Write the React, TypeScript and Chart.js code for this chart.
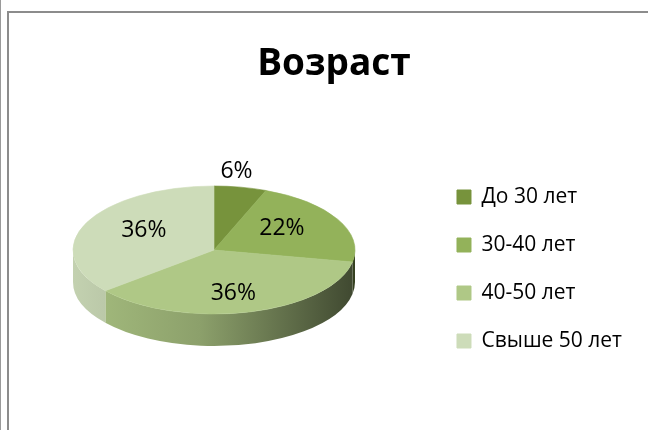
import React, { useEffect, useRef } from 'react';
import { Chart, registerables } from 'chart.js';

Chart.register(...registerables);

// ---- data ----
const chartTitle = 'Возраст';
const categories = ['До 30 лет', '30-40 лет', '40-50 лет', 'Свыше 50 лет'];
const values = [6, 22, 36, 36];
const sliceColors = ['#77933c', '#93b25a', '#afc886', '#cddcb9'];

// ---- style ----
const FONT = '"Open Sans", Lato, sans-serif';
const PIE_CX = 214;
const PIE_CY = 250;
const PIE_RX = 141;
const PIE_RY = 64;
const PIE_DEPTH = 32;

function shade(hex: string, f: number): string {
  const n = parseInt(hex.slice(1), 16);
  const r = Math.round(((n >> 16) & 255) * f);
  const g = Math.round(((n >> 8) & 255) * f);
  const b = Math.round((n & 255) * f);
  return `rgb(${r},${g},${b})`;
}

const framePlugin = {
  id: 'frame',
  beforeDraw(chart: any) {
    const ctx = chart.ctx;
    ctx.save();
    ctx.fillStyle = '#ffffff';
    ctx.fillRect(0, 0, chart.width, chart.height);
    ctx.strokeStyle = '#9a9a9a';
    ctx.lineWidth = 1;
    ctx.beginPath();
    ctx.moveTo(0.5, 0);
    ctx.lineTo(0.5, chart.height);
    ctx.stroke();
    ctx.strokeStyle = '#8c8c8c';
    ctx.lineWidth = 2;
    ctx.beginPath();
    ctx.moveTo(8, chart.height + 2);
    ctx.lineTo(8, 12);
    ctx.lineTo(chart.width + 2, 12);
    ctx.stroke();
    ctx.restore();
  },
};

const pie3dPlugin = {
  id: 'pie3d',
  beforeDatasetsDraw(chart: any) {
    const ctx = chart.ctx;
    const meta = chart.getDatasetMeta(0);
    const arcs = meta.data as any[];
    if (!arcs.length) return;
    ctx.save();
    arcs.forEach((arc, i) => {
      const { startAngle, endAngle } = arc.getProps(['startAngle', 'endAngle'], true);
      const a1 = Math.max(startAngle, 0);
      const a2 = Math.min(endAngle, Math.PI);
      if (a2 <= a1) return;
      const c = sliceColors[i];
      const g = ctx.createLinearGradient(PIE_CX - PIE_RX, 0, PIE_CX + PIE_RX, 0);
      g.addColorStop(0, shade(c, 0.95));
      g.addColorStop(0.45, shade(c, 0.8));
      g.addColorStop(1, shade(c, 0.36));
      ctx.beginPath();
      ctx.ellipse(PIE_CX, PIE_CY, PIE_RX, PIE_RY, 0, a1, a2);
      ctx.ellipse(PIE_CX, PIE_CY + PIE_DEPTH, PIE_RX, PIE_RY, 0, a2, a1, true);
      ctx.closePath();
      ctx.fillStyle = g;
      ctx.fill();
    });
    ctx.restore();
    const a0 = arcs[0];
    const { x, y, outerRadius } = a0.getProps(['x', 'y', 'outerRadius'], true);
    ctx.save();
    ctx.translate(PIE_CX, PIE_CY);
    ctx.scale(PIE_RX / outerRadius, PIE_RY / outerRadius);
    ctx.translate(-x, -y);
  },
  afterDatasetsDraw(chart: any) {
    const ctx = chart.ctx;
    ctx.restore();
    const meta = chart.getDatasetMeta(0);
    const arcs = meta.data as any[];
    const total = values.reduce((s, v) => s + v, 0);
    ctx.save();
    ctx.font = `23px ${FONT}`;
    ctx.fillStyle = '#000000';
    ctx.textAlign = 'center';
    ctx.textBaseline = 'middle';
    arcs.forEach((arc, i) => {
      const { startAngle, endAngle } = arc.getProps(['startAngle', 'endAngle'], true);
      const mid = (startAngle + endAngle) / 2;
      const pct = (values[i] / total) * 100;
      const outside = pct < 10;
      const fx = outside ? 0.85 : 0.55;
      const fy = outside ? 1.25 : 0.7;
      const lx = PIE_CX + Math.cos(mid) * PIE_RX * fx;
      const ly = PIE_CY + Math.sin(mid) * PIE_RY * fy;
      ctx.fillText(`${Math.round(pct)}%`, lx, ly);
    });
    ctx.restore();
  },
};

export default function App() {
  const ref = useRef<HTMLCanvasElement | null>(null);
  useEffect(() => {
    if (!ref.current) return;
    const chart = new Chart(ref.current, {
      type: 'pie',
      data: {
        labels: categories,
        datasets: [
          {
            data: values,
            backgroundColor: sliceColors,
            borderColor: sliceColors,
            borderWidth: 1,
          },
        ],
      },
      options: {
        responsive: false,
        animation: false,
        layout: { padding: { left: 36, right: 16, top: 0, bottom: 0 } },
        plugins: {
          title: {
            display: true,
            text: chartTitle,
            color: '#000000',
            font: { family: FONT, size: 37, weight: 'bold' },
            padding: { top: 42, bottom: 8 },
          },
          legend: {
            position: 'right',
            align: 'start',
            title: {
              display: true,
              text: ' ',
              font: { size: 10 },
              padding: { top: 147.5, bottom: 0 },
            },
            labels: {
              color: '#000000',
              font: { family: FONT, size: 21 },
              boxWidth: 14,
              boxHeight: 14,
              padding: 27,
            },
          },
          tooltip: { enabled: false },
        },
      },
      plugins: [framePlugin, pie3dPlugin],
    });
    return () => chart.destroy();
  }, []);
  return (
    <div style={{ position: 'fixed', left: 0, top: 0, width: 648, height: 430, background: '#fff' }}>
      <canvas ref={ref} width={648} height={430} style={{ display: 'block' }} />
    </div>
  );
}
